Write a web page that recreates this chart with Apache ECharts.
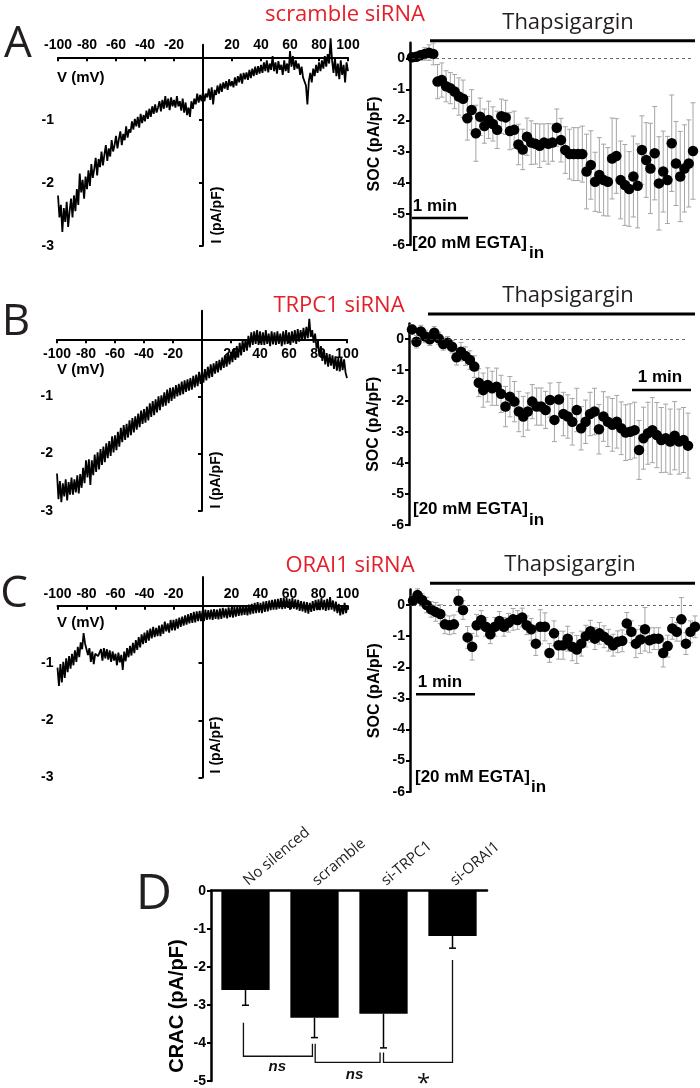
<!DOCTYPE html>
<html><head><meta charset="utf-8">
<script src="https://cdn.jsdelivr.net/npm/echarts@6/dist/echarts.min.js"></script>
<style>html,body{margin:0;padding:0;background:#fff}#c{width:700px;height:1088px}</style>
</head><body><div id="c"></div>
<script>
// ---------- DATA ----------
// I-V traces, voltage from -100 to 100 mV in 1 mV steps
const ivStartV = -100, ivStepV = 1;
const ivA = [
 -2.20,-2.55,-2.35,-2.78,-2.40,-2.62,-2.30,-2.70,-2.45,-2.25,
 -2.55,-2.20,-2.45,-2.10,-2.35,-1.85,-2.15,-1.95,-2.25,-1.90,
 -2.10,-1.80,-2.05,-1.70,-1.92,-1.78,-1.60,-1.88,-1.62,-1.75,
 -1.50,-1.72,-1.55,-1.40,-1.65,-1.45,-1.58,-1.32,-1.50,-1.40,
 -1.25,-1.45,-1.30,-1.18,-1.40,-1.22,-1.32,-1.10,-1.28,-1.15,
 -1.20,-1.02,-1.15,-0.98,-1.10,-0.95,-1.12,-0.90,-1.05,-0.92,
 -1.02,-0.85,-0.98,-0.82,-0.95,-0.78,-0.90,-0.75,-0.88,-0.80,
 -0.70,-0.86,-0.68,-0.82,-0.62,-0.80,-0.66,-0.84,-0.64,-0.78,
 -0.68,-0.80,-0.62,-0.78,-0.70,-0.85,-0.66,-0.88,-0.72,-0.92,
 -0.80,-0.95,-0.70,-0.82,-0.66,-0.75,-0.58,-0.72,-0.60,-0.70,
 -0.55,-0.70,-0.58,-0.64,-0.50,-0.68,-0.48,-0.75,-0.52,-0.60,
 -0.45,-0.58,-0.42,-0.55,-0.40,-0.50,-0.38,-0.52,-0.35,-0.46,
 -0.38,-0.48,-0.32,-0.45,-0.30,-0.40,-0.26,-0.42,-0.25,-0.35,
 -0.24,-0.36,-0.20,-0.33,-0.18,-0.30,-0.15,-0.28,-0.14,-0.26,
 -0.12,-0.25,-0.08,-0.22,-0.05,-0.24,-0.10,-0.20,0.02,-0.22,
 -0.08,-0.26,-0.06,-0.20,-0.12,-0.28,-0.05,-0.22,-0.10,-0.25,
 0.10,-0.15,0.02,-0.20,-0.05,-0.18,-0.10,-0.28,-0.15,-0.32,
 -0.30,-0.45,-0.75,-0.38,-0.25,-0.40,-0.18,-0.30,-0.12,-0.25,
 -0.08,-0.22,-0.05,-0.18,0.02,-0.15,0.05,-0.10,0.30,-0.05,
 -0.25,0.00,-0.30,-0.10,-0.35,-0.05,-0.28,-0.12,-0.40,-0.08,
 -0.22];
const ivB = [
 -2.35,-2.80,-2.48,-2.85,-2.52,-2.75,-2.45,-2.82,-2.50,-2.72,
 -2.42,-2.72,-2.45,-2.68,-2.38,-2.70,-2.36,-2.60,-2.25,-2.52,
 -2.12,-2.42,-2.10,-2.55,-2.12,-2.38,-2.02,-2.32,-1.98,-2.28,
 -1.92,-2.20,-1.88,-2.15,-1.82,-2.08,-1.78,-2.04,-1.70,-1.98,
 -1.68,-1.94,-1.62,-1.88,-1.55,-1.80,-1.50,-1.76,-1.48,-1.72,
 -1.42,-1.68,-1.38,-1.63,-1.35,-1.58,-1.30,-1.54,-1.25,-1.48,
 -1.22,-1.46,-1.18,-1.42,-1.12,-1.36,-1.08,-1.33,-1.05,-1.28,
 -1.00,-1.24,-0.98,-1.18,-0.93,-1.16,-0.88,-1.12,-0.85,-1.08,
 -0.84,-1.04,-0.80,-1.00,-0.78,-0.98,-0.74,-0.96,-0.72,-0.92,
 -0.70,-0.90,-0.68,-0.88,-0.64,-0.84,-0.62,-0.82,-0.57,-0.78,
 -0.55,-0.76,-0.52,-0.72,-0.48,-0.68,-0.44,-0.66,-0.42,-0.60,
 -0.38,-0.58,-0.36,-0.54,-0.32,-0.50,-0.28,-0.48,-0.24,-0.44,
 -0.22,-0.40,-0.16,-0.36,-0.12,-0.32,-0.06,-0.28,-0.02,-0.22,
 0.00,-0.20,0.06,-0.14,0.12,-0.10,0.14,-0.08,0.16,-0.10,
 0.14,-0.10,0.12,-0.10,0.16,-0.08,0.10,-0.12,0.14,-0.09,
 0.12,-0.10,0.14,-0.08,0.10,-0.12,0.14,-0.09,0.16,-0.08,
 0.12,-0.10,0.14,-0.06,0.16,-0.08,0.18,-0.04,0.16,-0.02,
 0.20,-0.02,0.22,0.02,0.36,0.04,0.16,-0.06,0.10,-0.16,
 -0.06,-0.30,-0.12,-0.38,-0.18,-0.44,-0.24,-0.48,-0.26,-0.46,
 -0.28,-0.52,-0.30,-0.55,-0.33,-0.56,-0.32,-0.54,-0.35,-0.58,
 -0.68];
const ivC = [
 -1.08,-1.40,-1.02,-1.34,-0.98,-1.26,-0.92,-1.16,-0.88,-1.10,
 -0.84,-1.04,-0.78,-0.98,-0.72,-0.90,-0.64,-0.76,-0.48,-0.66,
 -0.66,-0.86,-0.74,-0.98,-0.80,-1.02,-0.84,-0.86,-0.88,-0.82,
 -0.76,-0.96,-0.74,-0.92,-0.76,-0.94,-0.78,-0.98,-0.80,-0.96,
 -0.84,-1.04,-0.82,-0.99,-0.86,-1.12,-0.80,-0.97,-0.74,-0.90,
 -0.70,-0.87,-0.65,-0.83,-0.60,-0.77,-0.55,-0.73,-0.50,-0.67,
 -0.47,-0.65,-0.43,-0.61,-0.40,-0.57,-0.37,-0.55,-0.39,-0.53,
 -0.35,-0.53,-0.33,-0.49,-0.28,-0.45,-0.31,-0.47,-0.25,-0.43,
 -0.25,-0.43,-0.23,-0.40,-0.21,-0.37,-0.19,-0.35,-0.17,-0.33,
 -0.15,-0.31,-0.13,-0.30,-0.11,-0.29,-0.10,-0.27,-0.09,-0.27,
 -0.09,-0.27,-0.07,-0.25,-0.08,-0.24,-0.07,-0.25,-0.06,-0.23,
 -0.07,-0.24,-0.05,-0.23,-0.04,-0.21,-0.05,-0.22,-0.03,-0.20,
 -0.04,-0.21,-0.02,-0.19,-0.01,-0.18,0.00,-0.17,0.00,-0.16,
 0.01,-0.17,0.02,-0.15,0.03,-0.14,0.05,-0.13,0.06,-0.12,
 0.05,-0.13,0.07,-0.11,0.08,-0.10,0.09,-0.08,0.10,-0.07,
 0.11,-0.07,0.12,-0.05,0.13,-0.06,0.14,-0.05,0.13,-0.04,
 0.12,-0.06,0.13,-0.05,0.11,-0.07,0.10,-0.09,0.08,-0.10,
 0.07,-0.12,0.06,-0.14,0.05,-0.11,0.08,-0.09,0.10,-0.08,
 0.11,-0.08,0.13,-0.07,0.10,-0.09,0.12,-0.08,0.15,-0.07,
 0.09,-0.10,0.07,-0.13,0.03,-0.17,0.01,-0.15,0.05,-0.13,
 0.01];
const ivXTicks = [-100,-80,-60,-40,-20,20,40,60,80,100];
const ivYTicks = [-3,-2,-1];

// SOC time courses (mean, error), evenly spaced time points
const socA = [0.03,0.05,0.10,0.14,0.18,0.14,-0.75,-0.70,-0.90,-0.96,-1.07,-1.23,-1.30,
 -1.93,-1.66,-2.41,-1.88,-2.18,-1.98,-2.11,-2.30,-1.86,-1.90,
 -2.34,-2.30,-2.77,-2.93,-2.52,-2.71,-2.75,-2.81,-2.71,-2.75,
 -2.71,-2.23,-2.63,-2.95,-3.08,-3.08,-3.08,-3.08,-3.64,-3.43,
 -3.97,-3.75,-3.91,-3.97,-3.22,-3.14,-3.91,-4.07,-4.20,-3.80,
 -4.10,-2.95,-3.27,-3.54,-3.05,-4.02,-3.64,-3.91,-2.73,-3.38,
 -3.80,-3.54,-3.38,-2.98];
const errA = [0.10,0.12,0.15,0.20,0.25,0.35,0.55,0.55,0.50,0.50,0.55,0.60,0.60,
 0.70,0.65,0.90,0.60,0.55,0.60,0.55,0.60,0.55,0.55,
 0.60,0.60,0.65,0.65,0.60,0.70,0.65,0.70,0.60,0.65,
 0.60,0.60,0.70,0.75,0.80,0.85,0.85,0.90,1.20,1.10,
 0.95,1.20,1.15,1.10,1.30,1.20,1.25,1.30,1.20,1.30,
 1.35,1.10,1.20,1.45,1.50,1.50,1.30,1.40,1.55,1.35,
 1.45,1.40,1.40,1.55];
const socB = [0.31,-0.09,0.24,0.08,-0.01,0.20,0.02,-0.16,-0.12,-0.25,
 -0.59,-0.41,-0.55,-0.68,-0.89,-1.41,-1.65,-1.48,-1.59,-1.54,
 -1.77,-2.18,-1.86,-2.02,-2.34,-2.50,-2.34,-2.02,-2.18,-2.18,
 -2.29,-1.97,-2.61,-1.95,-2.42,-2.50,-2.67,-2.29,-2.88,-2.67,
 -2.42,-2.34,-2.91,-2.50,-2.67,-2.77,-2.67,-2.88,-3.02,-2.99,
 -2.94,-3.58,-3.20,-3.04,-2.94,-3.10,-3.26,-3.20,-3.31,-3.12,
 -3.31,-3.26,-3.44];
const errB = [0.15,0.20,0.20,0.20,0.20,0.20,0.20,0.20,0.20,0.20,
 0.25,0.30,0.30,0.30,0.35,0.45,0.55,0.55,0.55,0.60,
 0.60,0.65,0.65,0.65,0.65,0.65,0.60,0.55,0.60,0.60,
 0.60,0.55,0.70,0.55,0.70,0.70,0.75,0.70,0.70,0.70,
 0.70,0.75,0.80,0.80,0.80,0.85,0.85,0.85,0.90,0.90,
 0.90,0.95,1.00,1.00,1.05,1.05,1.05,1.10,1.05,1.10,
 1.05,1.05,1.05];
const socC = [0.14,0.32,0.16,0.00,-0.14,-0.22,-0.29,-0.62,-0.65,-0.62,
 0.14,-0.16,-1.04,-1.34,-0.65,-0.48,-0.70,-0.94,-0.70,-0.51,
 -0.70,-0.57,-0.46,-0.48,-0.40,-0.65,-0.78,-1.24,-0.70,-0.70,
 -1.54,-0.91,-1.29,-1.29,-1.08,-1.34,-1.43,-1.24,-1.00,-0.84,
 -1.08,-0.91,-1.02,-1.13,-1.29,-1.18,-1.15,-0.59,-0.86,-1.24,
 -1.11,-0.78,-1.13,-1.08,-1.08,-1.54,-1.32,-0.75,-0.86,-0.46,
 -1.24,-0.86,-0.70];
const errC = [0.15,0.20,0.20,0.25,0.25,0.30,0.30,0.30,0.30,0.30,
 0.35,0.30,0.35,0.43,0.35,0.30,0.30,0.30,0.30,0.30,
 0.30,0.30,0.35,0.30,0.30,0.30,0.35,0.38,0.55,0.45,
 0.30,0.40,0.45,0.45,0.40,0.45,0.45,0.40,0.35,0.35,
 0.35,0.35,0.35,0.35,0.35,0.35,0.35,0.35,0.35,0.45,
 0.45,0.70,0.40,0.35,0.35,0.45,0.35,0.35,0.30,0.70,
 0.35,0.35,0.35];
const socYTicks = [-6,-5,-4,-3,-2,-1,0];

// Panel D
const crCats = ['No silenced','scramble','si-TRPC1','si-ORAI1'];
const crVals = [-2.61,-3.34,-3.23,-1.19];
const crErrs = [0.40,0.52,0.90,0.32];
// brackets: [xLeft, yLeftTop, xRight, yRightTop, yBottom] (category index units)
const brackets = [[-0.03,-3.47,0.97,-4.02,-4.35],[1.01,-4.02,1.95,-4.25,-4.51],[2.0,-4.25,3.0,-1.82,-4.51]];
const sigLabels = ['ns','ns','*'];
const sigPos = [[0.46,-4.64],[1.58,-4.85],[2.58,-5.07]];

// ---------- CHART ----------
const FB = '"Liberation Sans", Arial, sans-serif';
const FR = '"Open Sans", "Noto Sans", sans-serif';
const chart = echarts.init(document.getElementById('c'), null, {renderer:'canvas'});

const grids = [
  {left:58, top:44.7, width:290, height:201},      // 0 A IV
  {left:412, top:42.7, width:281, height:202.3},   // 1 A SOC
  {left:57, top:310.75, width:290, height:199.9},  // 2 B IV
  {left:412, top:323.5, width:276, height:201.5},  // 3 B SOC
  {left:57.5, top:577, width:290, height:200.6},   // 4 C IV
  {left:413, top:589.5, width:282, height:202.2},  // 5 C SOC
  {left:211, top:890.7, width:276, height:193.3}   // 6 D
];
const xAxes = [], yAxes = [], series = [];
const lblStyle = {fontFamily:FB, fontWeight:'bold', fontSize:14, color:'#000'};

function addIV(g, data, ymax, labelsAbove){
  const ymin = -3, gr = grids[g];
  xAxes.push({gridIndex:g, type:'value', min:-100, max:100, show:false});
  yAxes.push({gridIndex:g, type:'value', min:ymin, max:ymax,
    axisLine:{onZero:true, lineStyle:{color:'#000', width:2}},
    axisTick:{customValues:ivYTicks, length:4, lineStyle:{color:'#000', width:2}},
    axisLabel:Object.assign({customValues:ivYTicks, margin:4}, lblStyle),
    splitLine:{show:false}});
  const ix = xAxes.length-1;
  series.push({type:'line', xAxisIndex:ix, yAxisIndex:ix, clip:false, showSymbol:false, symbol:'none',
    lineStyle:{color:'#000', width:1.8}, z:3,
    data:data.map((v,i)=>[ivStartV+i*ivStepV, v])});
  // voltage axis drawn in a thin companion grid whose bottom edge sits at I = 0
  const zeroY = gr.top + (ymax/(ymax-ymin))*gr.height;
  const gi = grids.length;
  grids.push({left:gr.left, width:gr.width, top:zeroY-10, height:10});
  xAxes.push({gridIndex:gi, type:'value', min:-100, max:100, position:'bottom',
    axisLine:{onZero:false, lineStyle:{color:'#000', width:2}},
    axisTick:{customValues:ivXTicks, length:4, lineStyle:{color:'#000', width:2}},
    axisLabel:Object.assign({customValues:ivXTicks, inside:labelsAbove, margin: labelsAbove?5:8}, lblStyle),
    splitLine:{show:false}});
  yAxes.push({gridIndex:gi, type:'value', min:0, max:1, show:false});
}
function errItem(params, api){
  const x=api.value(0), y=api.value(1), e=api.value(2);
  const t=api.coord([x,y+e]), b=api.coord([x,y-e]);
  const w=2.5, st={stroke:'#a5a5a5', lineWidth:1};
  return {type:'group', children:[
    {type:'line', shape:{x1:t[0],y1:t[1],x2:b[0],y2:b[1]}, style:st},
    {type:'line', shape:{x1:t[0]-w,y1:t[1],x2:t[0]+w,y2:t[1]}, style:st},
    {type:'line', shape:{x1:b[0]-w,y1:b[1],x2:b[0]+w,y2:b[1]}, style:st}]};
}
function addSOC(g, data, err, off){
  xAxes.push({gridIndex:g, type:'value', min:0, max:data.length-1, show:false});
  yAxes.push({gridIndex:g, type:'value', min:-6, max:0.5, offset:off,
    axisLine:{show:true, onZero:false, lineStyle:{color:'#000', width:2.5}},
    axisTick:{show:true, customValues:socYTicks, length:4, lineStyle:{color:'#000', width:2}},
    axisLabel:Object.assign({customValues:socYTicks, margin:5}, lblStyle),
    splitLine:{show:false},
    name:'SOC (pA/pF)', nameLocation:'middle', nameGap:27,
    nameTextStyle:{fontFamily:FB, fontWeight:'bold', fontSize:16, color:'#000'}});
  const ix = xAxes.length-1;
  series.push({type:'custom', xAxisIndex:ix, yAxisIndex:ix, renderItem:errItem, z:2,
    data:data.map((v,i)=>[i, v, err[i]])});
  series.push({type:'scatter', xAxisIndex:ix, yAxisIndex:ix, symbolSize:10.5, z:4,
    itemStyle:{color:'#000', opacity:1}, data:data.map((v,i)=>[i,v]),
    markLine:{silent:true, symbol:'none', label:{show:false},
      lineStyle:{type:[3,3], color:'#444', width:0.8}, data:[{yAxis:0}]}});
}

function addD(){
  xAxes.push({gridIndex:6, type:'category', data:crCats, position:'top',
    axisLine:{lineStyle:{color:'#000', width:2.5}}, axisTick:{show:false},
    axisLabel:{rotate:40, interval:0, margin:8, fontFamily:FR, fontSize:15, color:'#222'}});
  yAxes.push({gridIndex:6, type:'value', min:-5, max:0, interval:1,
    axisLine:{show:true, onZero:false, lineStyle:{color:'#000', width:2.5}},
    axisTick:{show:true, length:4, lineStyle:{color:'#000', width:2}},
    axisLabel:Object.assign({margin:5}, lblStyle), splitLine:{show:false}});
  const cx = xAxes.length-1, cy = yAxes.length-1;
  xAxes.push({gridIndex:6, type:'value', min:-0.5, max:3.5, show:false});
  const vx = xAxes.length-1;
  series.push({type:'bar', xAxisIndex:cx, yAxisIndex:cy, data:crVals, barWidth:'70%',
    itemStyle:{color:'#000'}, z:2});
  series.push({type:'custom', xAxisIndex:vx, yAxisIndex:cy, z:3,
    renderItem:function(p, api){
      const x=api.value(0), v=api.value(1), e=api.value(2);
      const a=api.coord([x,v]), b=api.coord([x,v-e]);
      const st={stroke:'#000', lineWidth:1.5};
      return {type:'group', children:[
        {type:'line', shape:{x1:a[0],y1:a[1],x2:b[0],y2:b[1]}, style:st},
        {type:'line', shape:{x1:b[0]-3.5,y1:b[1],x2:b[0]+3.5,y2:b[1]}, style:st}]};
    },
    data:crVals.map((v,i)=>[i, v, crErrs[i]])});
  series.push({type:'custom', xAxisIndex:vx, yAxisIndex:cy, z:3,
    renderItem:function(p, api){
      const x1=api.value(0), t1=api.value(1), x2=api.value(2), t2=api.value(3), bt=api.value(4);
      const p1=api.coord([x1,t1]), p2=api.coord([x1,bt]), p3=api.coord([x2,bt]), p4=api.coord([x2,t2]);
      return {type:'polyline', shape:{points:[p1,p2,p3,p4]}, style:{stroke:'#111', lineWidth:1.3, fill:null}};
    },
    data:brackets});
  series.push({type:'custom', xAxisIndex:vx, yAxisIndex:cy, z:3,
    renderItem:function(p, api){
      const c=api.coord([api.value(0), api.value(1)]);
      const t=sigLabels[p.dataIndex];
      const star = t==='*';
      return {type:'text', x:c[0], y:c[1], style:{text:t, align:'center', verticalAlign:'middle',
        fontFamily: star?FR:FB, fontWeight: star?'normal':'bold', fontStyle: star?'normal':'italic',
        fontSize: star?24:15, fill:'#111'}};
    },
    data:sigPos});
}

addIV(0, ivA, 0.2, true);
addSOC(1, socA, errA, 2);
addIV(2, ivB, 0.5, false);
addSOC(3, socB, errB, 3);
addIV(4, ivC, 0.5, true);
addSOC(5, socC, errC, 3);
addD();

// ---------- annotations ----------
function txt(x,y,t,o){return Object.assign({type:'text', x:x, y:y, silent:true,
  style:Object.assign({text:t, align:'center', verticalAlign:'middle', fill:'#000'}, o)})};
function ln(x1,y1,x2,y2,w){return {type:'line', silent:true, shape:{x1:x1,y1:y1,x2:x2,y2:y2}, style:{stroke:'#000', lineWidth:w}}};
const red = '#e3202a';
const bold = (s)=>({fontFamily:FB, fontWeight:'bold', fontSize:s});
const reg = (s)=>({fontFamily:FR, fontSize:s, fill:'#231f20'});
const L = (o)=>Object.assign(o,{align:'left'});
const graphic = [
  txt(18,44,'A',reg(44)), txt(16,322,'B',reg(44)), txt(14,594,'C',reg(44)), txt(154,895,'D',reg(50)),
  txt(345,15,'scramble siRNA',Object.assign(reg(22),{fill:red})),
  txt(339,306,'TRPC1 siRNA',Object.assign(reg(22),{fill:red})),
  txt(350,566,'ORAI1 siRNA',Object.assign(reg(22),{fill:red})),
  txt(568,22.5,'Thapsigargin',reg(22)), txt(568,296,'Thapsigargin',reg(22)), txt(570,565,'Thapsigargin',reg(22)),
  ln(430,40.7,695,40.7,3), ln(428,314,695,314,3), ln(430,583.3,695,583.3,3),
  ln(412,218,468,218,2.5), txt(435,206,'1 min',bold(17)),
  ln(632,390,691,390,2.5), txt(660,377,'1 min',bold(17)),
  ln(416,694.3,475,694.3,2.5), txt(440,682,'1 min',bold(17)),
  txt(412,243,'[20 mM EGTA]',L(bold(17))), txt(529,253,'in',L(bold(17))),
  txt(413,509,'[20 mM EGTA]',L(bold(17))), txt(529,520,'in',L(bold(17))),
  txt(415,777,'[20 mM EGTA]',L(bold(17))), txt(531,787,'in',L(bold(17))),
  txt(57,77.6,'V (mV)',L(bold(15))),
  txt(57,370,'V (mV)',L(bold(15))),
  txt(57,623,'V (mV)',L(bold(15))),
  Object.assign(txt(217.5,215,'I (pA/pF)',bold(14)),{rotation:Math.PI/2}),
  Object.assign(txt(216.5,480,'I (pA/pF)',bold(14)),{rotation:Math.PI/2}),
  Object.assign(txt(216.5,745,'I (pA/pF)',bold(14)),{rotation:Math.PI/2}),
  Object.assign(txt(177.5,1006,'CRAC (pA/pF)',bold(20)),{rotation:Math.PI/2})
];

chart.setOption({animation:false, backgroundColor:'#fff', grid:grids, xAxis:xAxes, yAxis:yAxes, series:series, graphic:graphic});
</script>
</body></html>
